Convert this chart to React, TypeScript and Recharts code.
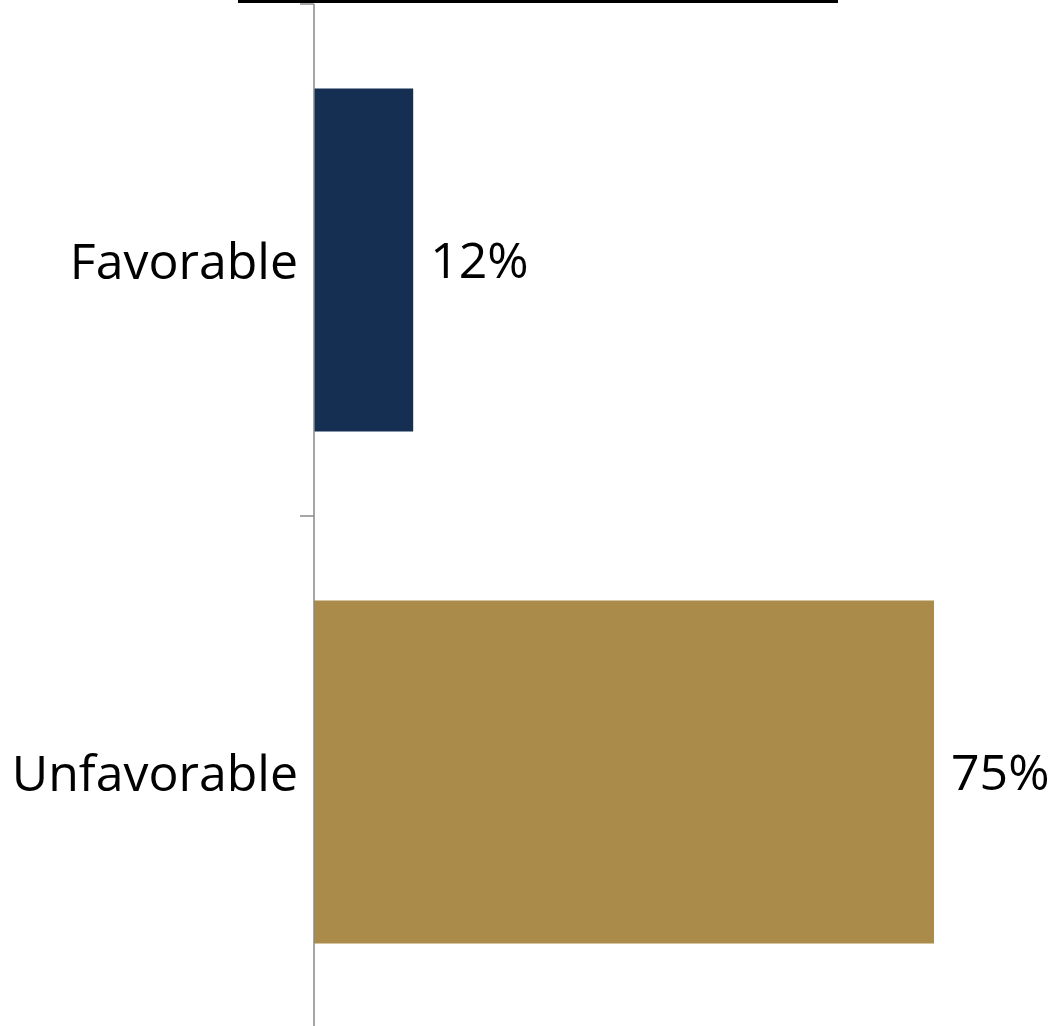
import React from "react";
import { BarChart, Bar, XAxis, YAxis, Cell, LabelList } from "recharts";

const categories = ["Favorable", "Unfavorable"];
const values = [12, 75];
const colors = ["#142F52", "#AB8B4A"];

const data = categories.map((c, i) => ({ name: c, value: values[i] }));

const W = 1058;
const H = 1026;
const MARGIN = { top: 4, right: 0, bottom: -2, left: 0 };
const BAND = (H - MARGIN.top - MARGIN.bottom) / categories.length;
const FONT = "'Open Sans', 'Noto Sans', sans-serif";
const FS = 50;

const Tick = (props: any) => {
  const { x, y, payload, index } = props;
  return (
    <g>
      <text
        x={x - 8}
        y={y}
        textAnchor="end"
        dominantBaseline="central"
        fontSize={FS}
        fontFamily={FONT}
        fill="#000"
      >
        {payload.value}
      </text>
      {index === 0 && (
        <line x1={x - 6} x2={x + 8} y1={y - BAND / 2} y2={y - BAND / 2} stroke="#888" strokeWidth={1.5} />
      )}
      <line x1={x - 6} x2={x + 8} y1={y + BAND / 2} y2={y + BAND / 2} stroke="#888" strokeWidth={1.5} />
    </g>
  );
};

export default function App() {
  return (
    <div style={{ position: "absolute", left: 0, top: 0, width: W, height: H, background: "#fff", overflow: "hidden" }}>
      <div style={{ position: "absolute", left: 238, top: 0, width: 600, height: 3, background: "#000" }} />
      <BarChart width={W} height={H} data={data} layout="vertical" margin={MARGIN} barCategoryGap="16.5%">
        <XAxis type="number" domain={[0, 90]} hide />
        <YAxis
          type="category"
          dataKey="name"
          width={314}
          axisLine={{ stroke: "#888", strokeWidth: 1.5 }}
          tickLine={false}
          tick={<Tick />}
          interval={0}
        />
        <Bar dataKey="value" isAnimationActive={false}>
          {data.map((d, i) => (
            <Cell key={d.name} fill={colors[i]} />
          ))}
          <LabelList
            dataKey="value"
            position="right"
            offset={17}
            formatter={(v: any) => `${v}%`}
            style={{ fontSize: FS, fontFamily: FONT, fill: "#000" }}
          />
        </Bar>
      </BarChart>
    </div>
  );
}
